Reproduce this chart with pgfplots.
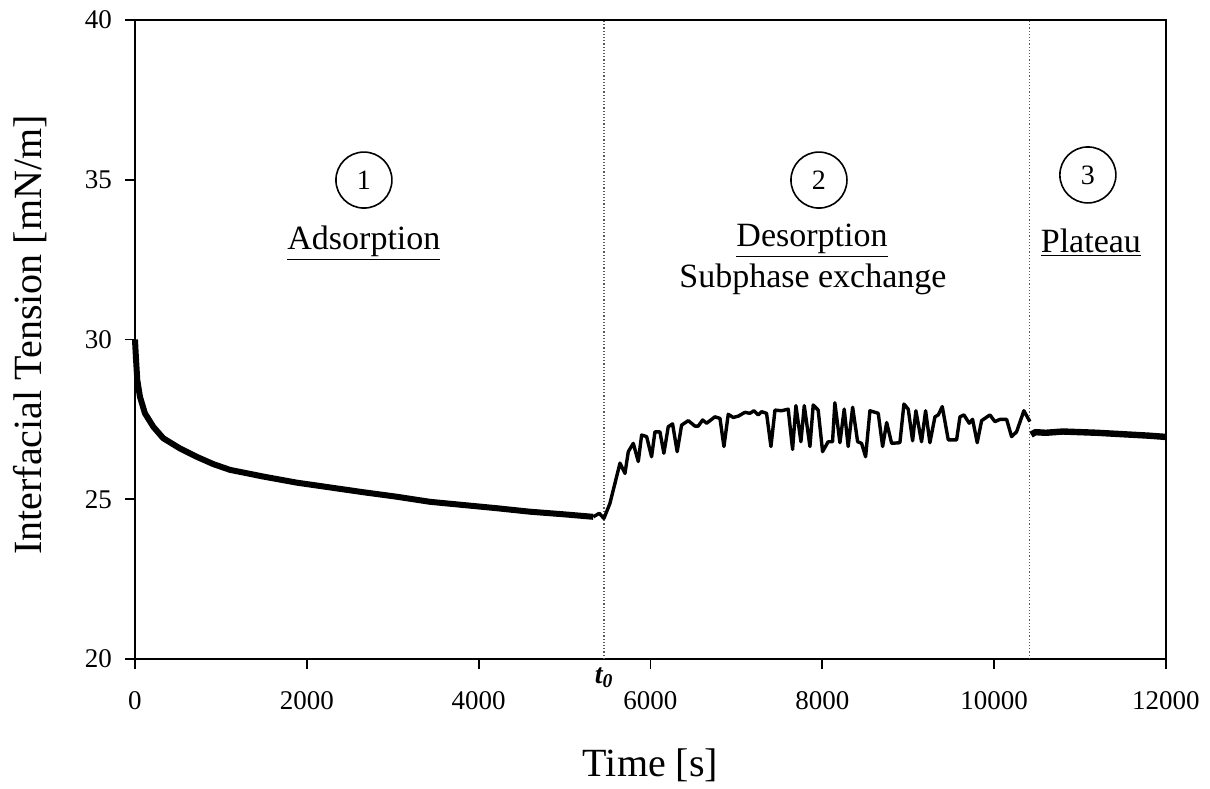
\documentclass[border=0pt]{standalone}
\usepackage{fontspec}
\setmainfont{Liberation Serif}
\usepackage{pgfplots}
\pgfplotsset{compat=1.18}
\begin{document}
\begin{tikzpicture}
\begin{axis}[
    scale only axis,
    width=515.5pt, height=319.5pt,
    xmin=0, xmax=12000, ymin=20, ymax=40,
    xtick={0,2000,...,12000},
    ytick={20,25,...,40},
    xtick pos=bottom, ytick pos=left,
    tick align=outside,
    major tick length=5pt,
    tick style={black, line width=0.9pt},
    axis line style={line width=0.9pt},
    scaled x ticks=false,
    /pgf/number format/assume math mode=true,
    /pgf/number format/set thousands separator={},
    ticklabel style={font=\fontsize{13.5}{16}\selectfont},
    xticklabel style={yshift=-7.5pt},
    yticklabel style={xshift=-3pt},
    xlabel={Time [s]},
    ylabel={Interfacial Tension [mN/m]},
    xlabel style={font=\fontsize{20}{22}\selectfont, at={(axis description cs:0.5,-0.166)}, anchor=center},
    ylabel style={font=\fontsize{20}{22}\selectfont, at={(axis description cs:-0.102,0.507)}, anchor=center},
    clip=false,
]
% phase boundaries
\addplot[gray!70!black, densely dotted, line width=0.6pt] coordinates {(5460,20) (5460,40)};
\addplot[gray!70!black, densely dotted, line width=0.6pt] coordinates {(10410,20) (10410,40)};

% adsorption
\addplot[black, line width=3pt, line join=round] coordinates {
(0,30.0) (12,29.4) (27,28.73) (58,28.21) (116,27.69) (213,27.27) (329,26.91)
(524,26.59) (718,26.33) (912,26.10) (1106,25.92) (1494,25.71) (1882,25.52)
(2270,25.37) (2657,25.22) (3045,25.08) (3433,24.92) (3821,24.82) (4209,24.72)
(4597,24.61) (4985,24.53) (5334,24.45)
};
% desorption / subphase exchange
\addplot[black, line width=1.7pt, line join=round] coordinates {
(5334,24.45) (5404,24.56) (5458,24.40) (5528,24.87) (5587,25.50) (5645,26.13)
(5703,25.81) (5742,26.49) (5800,26.75) (5858,26.18) (5897,27.01) (5955,26.96)
(6013,26.33) (6052,27.11) (6110,27.11) (6156,26.44) (6207,27.27) (6257,27.36)
(6311,26.49) (6362,27.32) (6440,27.46) (6517,27.29) (6556,27.29) (6607,27.48)
(6654,27.38) (6750,27.58) (6809,27.53) (6855,26.65) (6905,27.66) (6963,27.56)
(7021,27.60) (7099,27.72) (7157,27.69) (7204,27.77) (7254,27.64) (7293,27.74)
(7351,27.69) (7402,26.65) (7449,27.79) (7526,27.77) (7603,27.82) (7654,26.56)
(7693,27.93) (7751,26.80) (7790,27.93) (7856,26.65) (7894,27.95) (7952,27.79)
(8003,26.49) (8068,26.80) (8119,26.80) (8146,28.02) (8205,26.77) (8255,27.82)
(8301,26.65) (8353,27.88) (8411,26.80) (8457,26.75) (8504,26.33) (8554,27.77)
(8651,27.69) (8702,26.65) (8749,27.40) (8807,26.75) (8903,26.77) (8950,27.98)
(9000,27.82) (9051,26.83) (9089,27.77) (9155,26.80) (9202,27.77) (9252,26.77)
(9311,27.58) (9350,27.64) (9396,27.90) (9466,26.86) (9563,26.86) (9602,27.58)
(9648,27.64) (9710,27.38) (9749,27.50) (9803,26.77) (9854,27.46) (9951,27.64)
(10009,27.43) (10067,27.50) (10145,27.50) (10203,26.96) (10261,27.11)
(10346,27.77) (10416,27.43)
};
% plateau
\addplot[black, line width=3.2pt, line join=round] coordinates {
(10430,27.02) (10480,27.10) (10600,27.08) (10800,27.12) (11000,27.10)
(11200,27.08) (11400,27.05) (11600,27.02) (11800,26.99) (12000,26.95)
};

% annotations
\node[draw, circle, line width=0.8pt, minimum size=28pt, inner sep=0pt, font=\fontsize{14}{16}\selectfont] at (axis cs:2665,34.99) {1};
\node[draw, circle, line width=0.8pt, minimum size=28pt, inner sep=0pt, font=\fontsize{14}{16}\selectfont] at (axis cs:7961,34.99) {2};
\node[draw, circle, line width=0.8pt, minimum size=28pt, inner sep=0pt, font=\fontsize{14}{16}\selectfont] at (axis cs:11091,35.15) {3};
\node[font=\fontsize{17}{19}\selectfont] at (axis cs:2665,33.02) {\underline{Adsorption}};
\node[font=\fontsize{17}{19}\selectfont] at (axis cs:7880,33.08) {\underline{Desorption}};
\node[font=\fontsize{17}{19}\selectfont] at (axis cs:7891,31.89) {Subphase exchange};
\node[font=\fontsize{17}{19}\selectfont] at (axis cs:11126,33.02) {\underline{Plateau}};
\node[font=\fontsize{14}{16}\selectfont, anchor=base, inner sep=0pt] at (axis cs:5460,20) [yshift=-12pt] {\textbf{\textit{t\textsubscript{0}}}};

% page extent
\path (rel axis cs:-0.1309,-0.1972) rectangle (rel axis cs:1.0427,1.0313);
\end{axis}
\end{tikzpicture}
\end{document}
